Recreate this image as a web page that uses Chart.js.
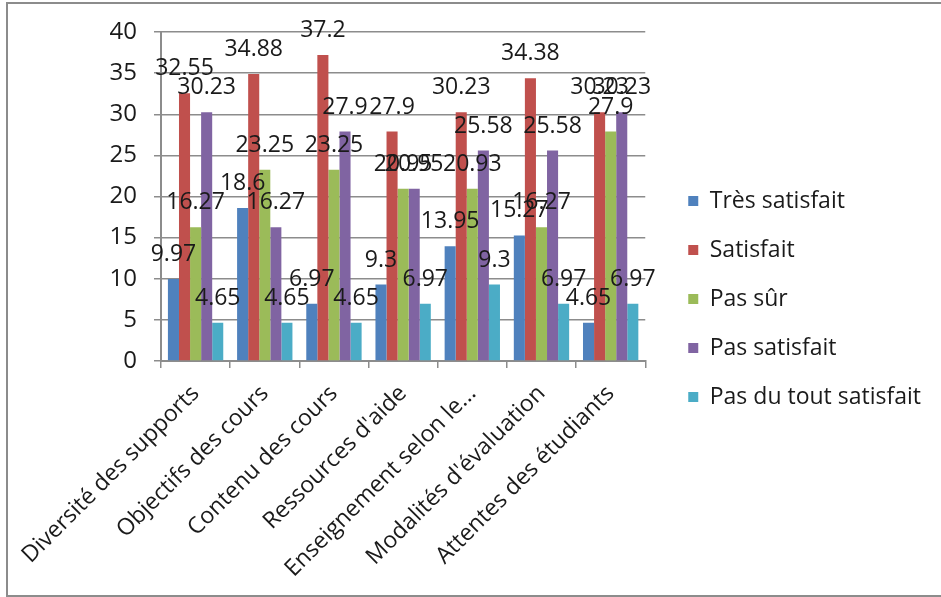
<!DOCTYPE html>
<html>
<head>
<meta charset="utf-8">
<script src="https://cdn.jsdelivr.net/npm/chart.js@4"></script>
<style>
  html, body { margin: 0; padding: 0; background: #fff; }
  #wrap { position: relative; width: 941px; height: 597px; overflow: hidden; }
  #frame { position: absolute; left: 6px; top: 2px; width: 1000px; height: 591px;
           border: 2px solid #8c8c8c; box-shadow: 1px 1px 0 #c8c8c8; pointer-events: none; }
  canvas { position: absolute; left: 0; top: 0; }
</style>
</head>
<body>
<div id="wrap">
  <canvas id="chart" width="941" height="597"></canvas>
  <div id="frame"></div>
</div>
<script>
// Categories and series
const categories = [
  'Diversité des supports',
  'Objectifs des cours',
  'Contenu des cours',
  "Ressources d'aide",
  'Enseignement selon le...',
  "Modalités d'évaluation",
  'Attentes des étudiants'
];
const tresSatisfait   = [9.97, 18.6, 6.97, 9.3, 13.95, 15.27, 4.65];
const satisfait       = [32.55, 34.88, 37.2, 27.9, 30.23, 34.38, 30.23];
const pasSur          = [16.27, 23.25, 23.25, 20.95, 20.93, 16.27, 27.9];
const pasSatisfait    = [30.23, 16.27, 27.9, 20.95, 25.58, 25.58, 30.23];
const pasDuToutSatisf = [4.65, 4.65, 4.65, 6.97, 9.3, 6.97, 6.97];
const yTicks = [0, 5, 10, 15, 20, 25, 30, 35, 40];

const FONT = '"Open Sans", "Liberation Sans", sans-serif';
const TEXT = '#1a1a1a';
const GRID = '#8c8c8c';

// Draw the value above every bar
const valueLabels = {
  id: 'valueLabels',
  afterDatasetsDraw(chart) {
    const ctx = chart.ctx;
    ctx.save();
    ctx.font = '23px ' + FONT;
    ctx.fillStyle = TEXT;
    ctx.textAlign = 'center';
    ctx.textBaseline = 'alphabetic';
    chart.data.datasets.forEach((ds, i) => {
      chart.getDatasetMeta(i).data.forEach((bar, j) => {
        ctx.fillText(String(ds.data[j]), bar.x, bar.y - 18);
      });
    });
    ctx.restore();
  }
};

function makeSet(label, data, color) {
  return {
    label: label,
    data: data,
    backgroundColor: color,
    borderWidth: 0,
    categoryPercentage: 0.8,
    barPercentage: 1.0
  };
}

// empty axes used only as spacers
function spacer(axis, position, size) {
  const s = {
    type: axis === 'x' ? 'category' : 'linear',
    axis: axis,
    position: position,
    grid: { display: false },
    border: { display: false },
    ticks: { display: false }
  };
  if (axis === 'x') s.afterFit = sc => { sc.height = size; };
  else s.afterFit = sc => { sc.width = size; };
  return s;
}

new Chart(document.getElementById('chart'), {
  type: 'bar',
  data: {
    labels: categories,
    datasets: [
      makeSet('Très satisfait', tresSatisfait, '#4f81bd'),
      makeSet('Satisfait', satisfait, '#c0504d'),
      makeSet('Pas sûr', pasSur, '#9bbb59'),
      makeSet('Pas satisfait', pasSatisfait, '#8064a2'),
      makeSet('Pas du tout satisfait', pasDuToutSatisf, '#4bacc6')
    ]
  },
  options: {
    responsive: false,
    animation: false,
    devicePixelRatio: 1,
    layout: { padding: { top: 2, bottom: 1, left: 0, right: 10 } },
    plugins: {
      tooltip: { enabled: false },
      legend: {
        position: 'right',
        align: 'center',
        maxWidth: 320,
        labels: {
          boxWidth: 10,
          boxHeight: 10,
          padding: 26,
          color: TEXT,
          font: { family: FONT, size: 23 }
        }
      }
    },
    scales: {
      x: {
        grid: { drawOnChartArea: false, drawTicks: true, tickLength: 7, color: GRID, lineWidth: 1.5 },
        border: { color: GRID, width: 2 },
        ticks: { minRotation: 45, maxRotation: 45, color: TEXT, padding: 12, font: { family: FONT, size: 23 } },
        afterFit: s => { s.height = 235; }
      },
      y: {
        min: 0,
        max: 40,
        afterBuildTicks: s => { s.ticks = yTicks.map(v => ({ value: v })); },
        grid: { color: GRID, lineWidth: 1.5, tickLength: 7 },
        border: { color: GRID, width: 2 },
        ticks: { padding: 17, color: TEXT, font: { family: FONT, size: 24 } },
        afterFit: s => { s.width = 161; }
      },
      topGap: spacer('x', 'top', 30),
      rightGap: spacer('y', 'right', 17)
    }
  },
  plugins: [valueLabels]
});
</script>
</body>
</html>
